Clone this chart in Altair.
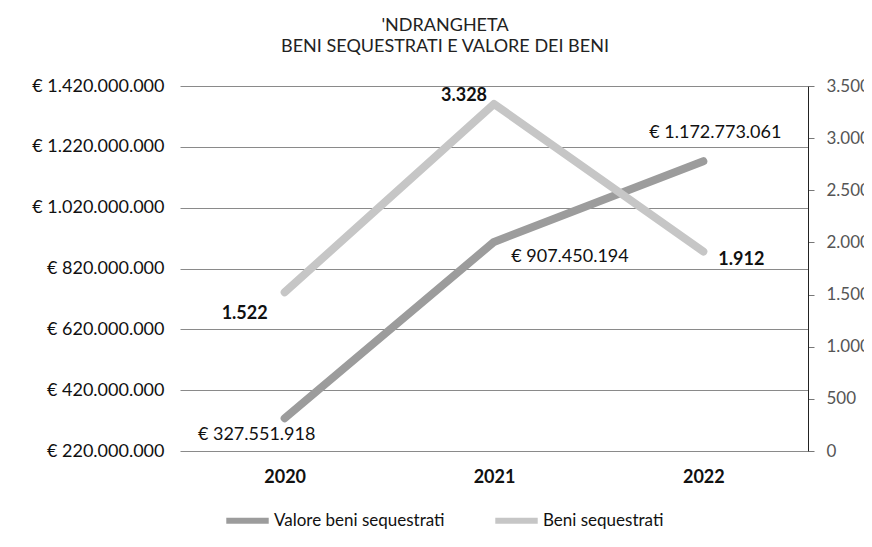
import altair as alt
import pandas as pd

years = ["2020", "2021", "2022"]
valore = [327551918, 907450194, 1172773061]
beni = [1522, 3328, 1912]
serie_names = ["Valore beni sequestrati", "Beni sequestrati"]
colors = ["#9c9c9c", "#c6c6c6"]


def it_num(v):
    return f"{v:,}".replace(",", ".")


df = pd.DataFrame({
    "anno": years,
    "valore": valore,
    "beni": beni,
    "lab_valore": ["€ " + it_num(v) for v in valore],
    "lab_beni": [it_num(v) for v in beni],
})
df["s_valore"] = serie_names[0]
df["s_beni"] = serie_names[1]

FONT = "Lato"
W, H = 628, 365
FS = 18

x = alt.X("anno:N", scale=alt.Scale(type="point", padding=0.5),
          axis=alt.Axis(title=None, labelAngle=0, ticks=False, domain=False,
                        labelFontSize=FS, labelFontWeight="bold", labelColor="#111",
                        labelPadding=17, grid=False))

color_scale = alt.Scale(domain=serie_names, range=colors)
legend = alt.Legend(title=None, orient="none", legendX=43, legendY=410,
                    direction="horizontal", symbolType="stroke", symbolSize=1800,
                    symbolStrokeWidth=6, labelFontSize=17, labelFont=FONT,
                    labelColor="#111", labelOffset=2, columnPadding=38, labelLimit=400)

yL = alt.Y("valore:Q", scale=alt.Scale(domain=[220000000, 1420000000], nice=False, zero=False),
           axis=alt.Axis(title=None, values=[220000000 + 200000000 * i for i in range(7)],
                         labelExpr="'€ ' + join(split(format(datum.value, ','), ','), '.')",
                         ticks=False, domain=False, grid=True, gridColor="#8a8a8a",
                         gridWidth=1, labelFontSize=FS, labelColor="#111", labelPadding=16))
yR = alt.Y("beni:Q", scale=alt.Scale(domain=[0, 3500], nice=False),
           axis=alt.Axis(title=None, orient="right", values=[500 * i for i in range(8)],
                         labelExpr="join(split(format(datum.value, ','), ','), '.')",
                         ticks=True, tickSize=6, tickColor="#777", domain=True,
                         domainColor="#222", domainWidth=1, grid=False,
                         labelFontSize=17, labelColor="#555", labelPadding=12))

base = alt.Chart(df)

line_v = base.mark_line(strokeWidth=8, strokeCap="round", strokeJoin="round").encode(
    x=x, y=yL, color=alt.Color("s_valore:N", scale=color_scale, legend=legend))
line_b = base.mark_line(strokeWidth=8, strokeCap="round", strokeJoin="round").encode(
    x=x, y=yR, color=alt.Color("s_beni:N", scale=color_scale, legend=legend))


def lab_v(year, dx, dy):
    return base.transform_filter(alt.datum.anno == year).mark_text(
        font=FONT, fontSize=FS, color="#111", dx=dx, dy=dy).encode(
        x=x, y=yL, text="lab_valore:N")


def lab_b(year, dx, dy):
    return base.transform_filter(alt.datum.anno == year).mark_text(
        font=FONT, fontSize=FS, fontWeight="bold", color="#111", dx=dx, dy=dy).encode(
        x=x, y=yR, text="lab_beni:N")


left = alt.layer(line_v, lab_v("2020", -28, 17), lab_v("2021", 76, 15), lab_v("2022", 12, -28))
right = alt.layer(line_b, lab_b("2020", -40, 22), lab_b("2021", -30, -8), lab_b("2022", 38, 8))

chart = alt.layer(left, right).resolve_scale(y="independent").properties(
    width=W, height=H,
    title=alt.Title(["'NDRANGHETA", "BENI SEQUESTRATI E VALORE DEI BENI"],
                    anchor="middle", dx=-49, offset=21, fontSize=18,
                    fontWeight="normal", font=FONT, color="#222", lineHeight=21),
    autosize=alt.AutoSizeParams(type="none"),
    padding={"left": 172, "top": 78, "right": 56, "bottom": 88},
).configure(font=FONT).configure_view(stroke=None).configure_axis(labelFont=FONT)

chart.save("out.html", embed_options={"renderer": "svg", "actions": False})
